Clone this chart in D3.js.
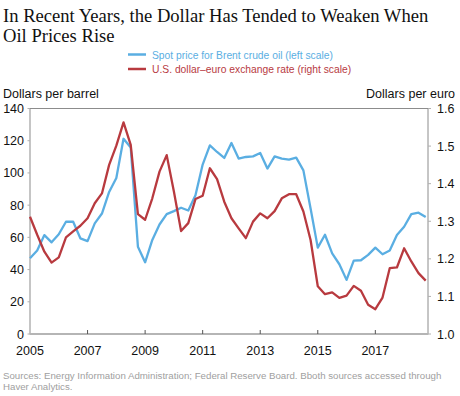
<!DOCTYPE html>
<html>
<head>
<meta charset="utf-8">
<script src="https://cdn.jsdelivr.net/npm/d3@7"></script>
<style>
  body { margin: 0; background: #fff; }
  svg text { font-family: "Liberation Sans", Arial, sans-serif; }
</style>
</head>
<body>
<div id="chart"></div>
<script>
// quarterly, 2005Q1 .. 2018Q4
var startYear = 2005;
var oilPrice = [47.0, 51.8, 61.4, 56.9, 61.9, 69.7, 69.7, 59.4, 57.7, 68.7, 74.8, 88.2,
  96.9, 121.2, 115.8, 54.2, 44.5, 58.4, 68.0, 74.4, 76.3, 78.4, 76.7, 86.2,
  105.2, 117.1, 113.0, 109.3, 118.6, 108.9, 109.9, 110.3, 112.4, 102.7, 110.3, 108.9,
  108.2, 109.5, 101.6, 77.9, 53.6, 61.6, 50.1, 43.3, 33.6, 45.6, 45.8, 49.1,
  53.6, 49.5, 51.8, 61.4, 66.6, 74.4, 75.3, 72.6];
var usdEur = [1.312, 1.264, 1.219, 1.190, 1.204, 1.257, 1.273, 1.288, 1.308, 1.348, 1.374, 1.450,
  1.501, 1.563, 1.503, 1.319, 1.304, 1.361, 1.432, 1.476, 1.379, 1.274, 1.295, 1.359,
  1.368, 1.441, 1.412, 1.352, 1.308, 1.281, 1.255, 1.299, 1.321, 1.308, 1.327, 1.361,
  1.372, 1.372, 1.326, 1.250, 1.127, 1.106, 1.111, 1.096, 1.102, 1.128, 1.115, 1.078,
  1.066, 1.097, 1.175, 1.177, 1.228, 1.193, 1.162, 1.142];
var yearTicks = [2005, 2007, 2009, 2011, 2013, 2015, 2017];
var leftTicks = [0, 20, 40, 60, 80, 100, 120, 140];
var rightTicks = [1.0, 1.1, 1.2, 1.3, 1.4, 1.5, 1.6];

var width = 460, height = 396;
var margin = { top: 108.5, right: 32, bottom: 62, left: 30 };
var blue = '#5aaee2', red = '#b83a3f', frame = '#8c8c8c';

var svg = d3.select('#chart').append('svg')
  .attr('width', width)
  .attr('height', height);

var x = d3.scaleLinear()
  .domain([2005, 2018.83])
  .range([margin.left, width - margin.right]);
var yL = d3.scaleLinear().domain([0, 140]).range([height - margin.bottom, margin.top]);
var yR = d3.scaleLinear().domain([1.0, 1.6]).range([height - margin.bottom, margin.top]);

var x0 = margin.left, x1 = width - margin.right;
var yTop = margin.top, yBot = height - margin.bottom;

// title
var title = svg.append('text')
  .attr('x', 3)
  .style('font-family', '"Liberation Serif", "DejaVu Serif", serif')
  .style('font-size', '18.6px')
  .attr('fill', '#111');
title.append('tspan').attr('x', 3).attr('y', 22).text('In Recent Years, the Dollar Has Tended to Weaken When');
title.append('tspan').attr('x', 3).attr('y', 42).text('Oil Prices Rise');

// legend
var legend = [
  { label: 'Spot price for Brent crude oil (left scale)', color: blue },
  { label: 'U.S. dollar\u2013euro exchange rate (right scale)', color: red }
];
legend.forEach(function (d, i) {
  var ly = 54.5 + i * 14.5;
  svg.append('line')
    .attr('x1', 128).attr('x2', 146)
    .attr('y1', ly).attr('y2', ly)
    .attr('stroke', d.color).attr('stroke-width', 2.5);
  svg.append('text')
    .attr('x', 152).attr('y', ly + 4)
    .attr('fill', d.color)
    .style('font-size', '10.3px')
    .text(d.label);
});

// axis titles
svg.append('text').attr('x', 3).attr('y', 98)
  .style('font-size', '12.5px').attr('fill', '#111')
  .text('Dollars per barrel');
svg.append('text').attr('x', 455).attr('y', 98)
  .attr('text-anchor', 'end')
  .style('font-size', '12.5px').attr('fill', '#111')
  .text('Dollars per euro');

// frame
svg.append('rect')
  .attr('x', x0).attr('y', yTop)
  .attr('width', x1 - x0).attr('height', yBot - yTop)
  .attr('fill', 'none').attr('stroke', frame).attr('stroke-width', 1);
svg.append('line')
  .attr('x1', x0).attr('x2', x1).attr('y1', yBot).attr('y2', yBot)
  .attr('stroke', '#b5b5b5').attr('stroke-width', 2);

// left axis
svg.selectAll('.ltick').data(leftTicks).enter().append('line')
  .attr('x1', x0 - 2.5).attr('x2', x0)
  .attr('y1', function (d) { return yL(d); })
  .attr('y2', function (d) { return yL(d); })
  .attr('stroke', '#b0b0b0');
svg.selectAll('.llab').data(leftTicks).enter().append('text')
  .attr('x', 24).attr('y', function (d) { return yL(d) + 4.5; })
  .attr('text-anchor', 'end')
  .style('font-size', '12.5px').attr('fill', '#111')
  .text(function (d) { return d; });

// right axis
svg.selectAll('.rtick').data(rightTicks).enter().append('line')
  .attr('x1', x1).attr('x2', x1 + 3)
  .attr('y1', function (d) { return yR(d); })
  .attr('y2', function (d) { return yR(d); })
  .attr('stroke', '#b0b0b0');
svg.selectAll('.rlab').data(rightTicks).enter().append('text')
  .attr('x', 437).attr('y', function (d) { return yR(d) + 4.5; })
  .style('font-size', '12.5px').attr('fill', '#111')
  .text(function (d) { return d3.format('.1f')(d); });

// x axis
svg.selectAll('.xtick').data(yearTicks.slice(1)).enter().append('line')
  .attr('x1', function (d) { return x(d); })
  .attr('x2', function (d) { return x(d); })
  .attr('y1', yBot - 4).attr('y2', yBot)
  .attr('stroke', '#555');
svg.selectAll('.xlab').data(yearTicks).enter().append('text')
  .attr('x', function (d) { return x(d); })
  .attr('y', 355)
  .attr('text-anchor', 'middle')
  .style('font-size', '12.5px').attr('fill', '#111')
  .text(function (d) { return d; });

// lines
var t = function (i) { return startYear + i / 4; };
var oilLine = d3.line()
  .x(function (d, i) { return x(t(i)); })
  .y(function (d) { return yL(d); });
var fxLine = d3.line()
  .x(function (d, i) { return x(t(i)); })
  .y(function (d) { return yR(d); });

svg.append('path').datum(oilPrice)
  .attr('d', oilLine)
  .attr('fill', 'none').attr('stroke', blue)
  .attr('stroke-width', 2.3).attr('stroke-linejoin', 'round');
svg.append('path').datum(usdEur)
  .attr('d', fxLine)
  .attr('fill', 'none').attr('stroke', red)
  .attr('stroke-width', 2.3).attr('stroke-linejoin', 'round');

// source
var src = svg.append('text')
  .style('font-size', '9.7px').attr('fill', '#a0a0a0');
src.append('tspan').attr('x', 3).attr('y', 379)
  .text('Sources: Energy Information Administration; Federal Reserve Board. Bboth sources accessed through');
src.append('tspan').attr('x', 3).attr('y', 390).text('Haver Analytics.');
</script>
</body>
</html>
